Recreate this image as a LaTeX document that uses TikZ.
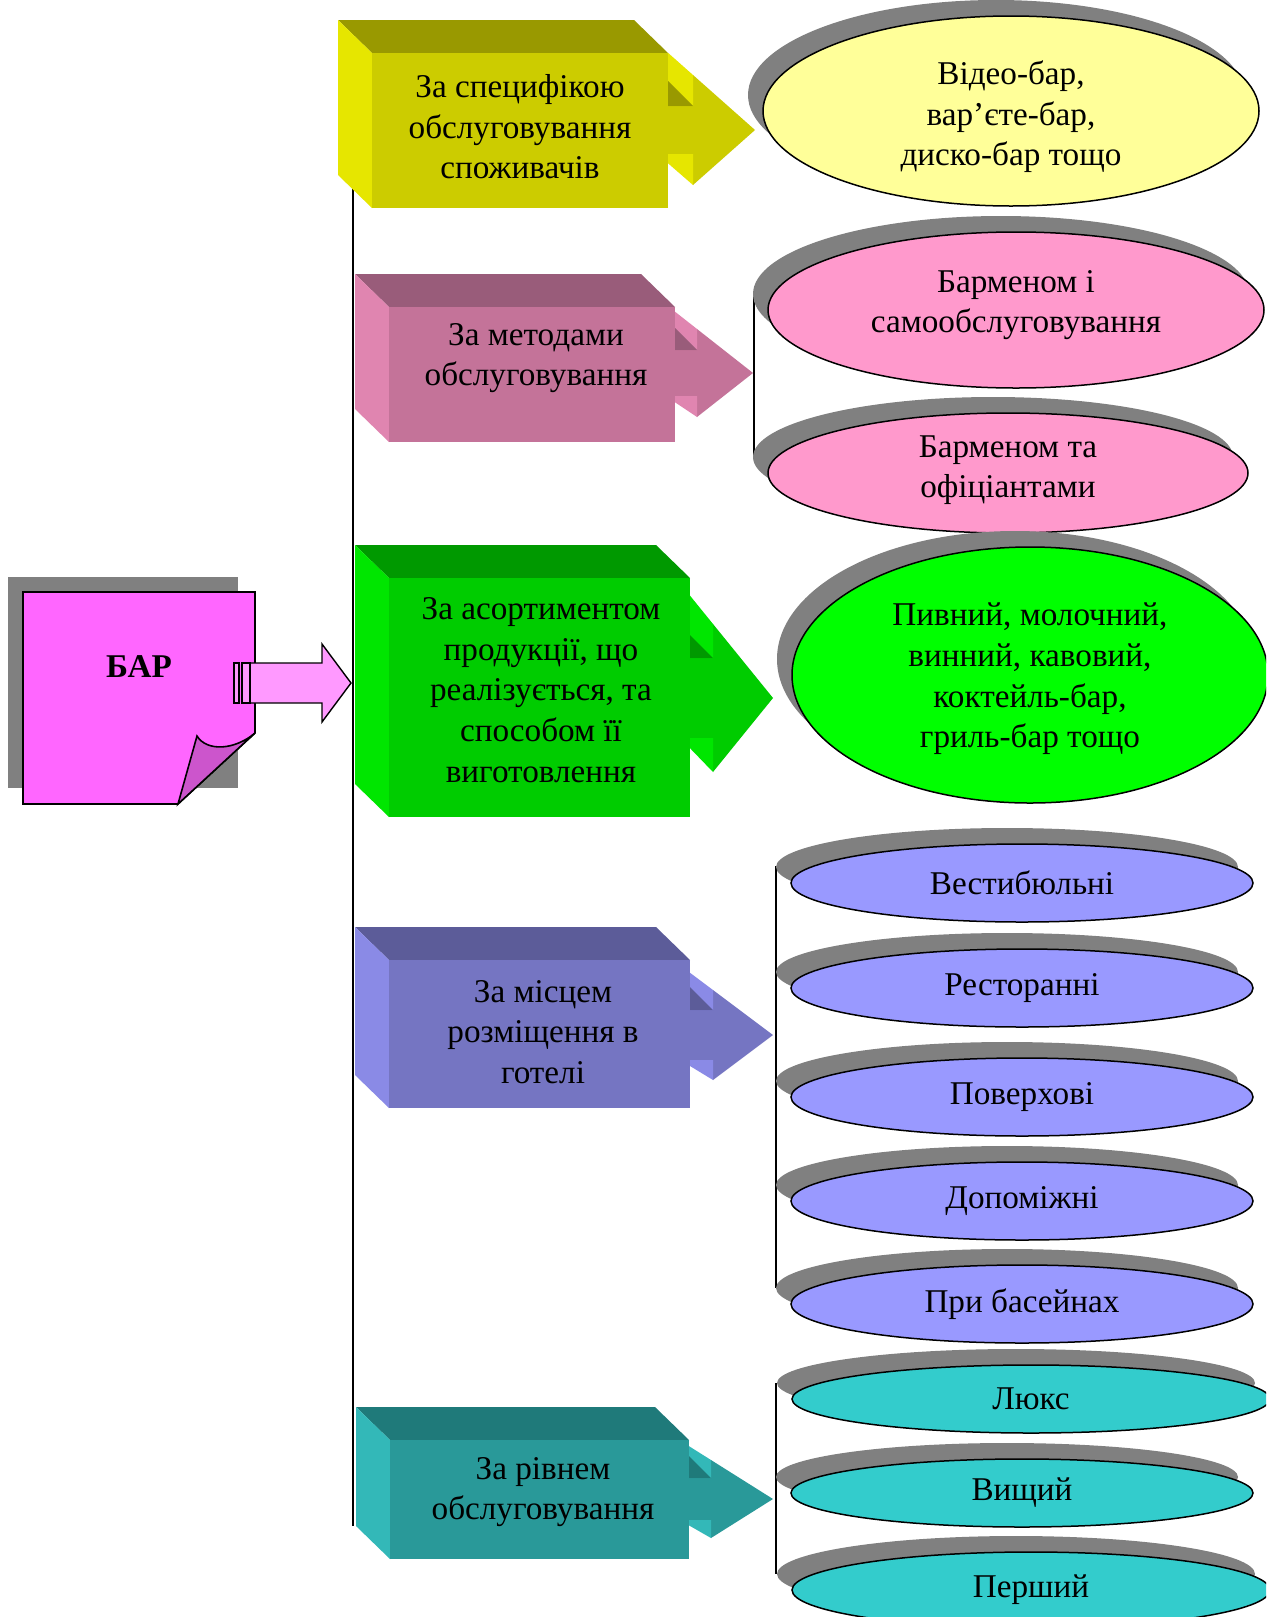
\documentclass[tikz,border=0pt]{standalone}
\usepackage{fontspec}
\setmainfont{Liberation Serif}
\usetikzlibrary{shapes.geometric,shadows}

\definecolor{shadowgray}{HTML}{808080}
\definecolor{barpink}{HTML}{FF66FF}
\definecolor{barfold}{HTML}{CC55CC}
\definecolor{arrowpink}{HTML}{FF99FF}
% box faces: front / side / top
\definecolor{yfront}{HTML}{CCCC00}\definecolor{yside}{HTML}{E6E600}\definecolor{ytop}{HTML}{999900}
\definecolor{pfront}{HTML}{C47399}\definecolor{pside}{HTML}{E085B0}\definecolor{ptop}{HTML}{995C7A}
\definecolor{gfront}{HTML}{00CC00}\definecolor{gside}{HTML}{00E600}\definecolor{gtop}{HTML}{009900}
\definecolor{vfront}{HTML}{7575C2}\definecolor{vside}{HTML}{8A8AE6}\definecolor{vtop}{HTML}{5C5C99}
\definecolor{tfront}{HTML}{299999}\definecolor{tside}{HTML}{33B8B8}\definecolor{ttop}{HTML}{1F7A7A}
% ellipse fills
\definecolor{ovyellow}{HTML}{FFFF99}
\definecolor{ovpink}{HTML}{FF99CC}
\definecolor{ovgreen}{HTML}{00FF00}
\definecolor{ovviolet}{HTML}{9999FF}
\definecolor{ovteal}{HTML}{33CCCC}

% 3D box: front-left x, front-top y, front-right x, front-bottom y, front, side, top
\newcommand\catbox[7]{%
  \fill[#7] (#1-34,#2-33) -- (#3-34,#2-33) -- (#3,#2) -- (#1,#2) -- cycle;
  \fill[#6] (#1-34,#2-33) -- (#1,#2) -- (#1,#4) -- (#1-34,#4-33) -- cycle;
  \fill[#5] (#1,#2) rectangle (#3,#4);
}
% 3D block arrow: base x, head x, tip x, tip y, head half-height, shaft half-height, front, side, top
\newcommand\blockarrow[9]{%
  \pgfmathsetmacro\arHt{#4-#5}%
  \pgfmathsetmacro\arHb{#4+#5}%
  \pgfmathsetmacro\arSt{#4-#6}%
  \pgfmathsetmacro\arSb{#4+#6}%
  \pgfmathsetmacro\arYf{\arHt-(#2-#1)*#5/(#3-#2)}%
  \pgfmathsetmacro\arYb{\arSb+0.3*(\arHb-\arSb)}%
  \fill[#7] (#1,\arSt) -- (#2,\arSt) -- (#2,\arHt) -- (#3,#4) -- (#2,\arHb) -- (#2,\arSb) -- (#1,\arSb) -- cycle;
  \fill[#8] (#1,\arYf) -- (#2,\arHt) -- (#2,\arSt) -- (#1,\arSt) -- cycle;
  \fill[#9] (#1,\arSt-#2+#1) -- (#2,\arSt) -- (#1,\arSt) -- cycle;
  \fill[#8] (#1,\arSb) -- (#2,\arSb) -- (#2,\arHb) -- (#1,\arYb) -- cycle;
}

\begin{document}
\begin{tikzpicture}[x=0.5pt,y=-0.5pt,
  lbl/.style={font=\fontsize{16.6}{20.3}\selectfont, align=center, inner sep=0pt, text=black},
  oval/.style={ellipse, draw=black, line width=0.75pt, inner sep=0pt, align=center,
    font=\fontsize{16.6}{20.3}\selectfont,
    drop shadow={shadow xshift=-7.5pt, shadow yshift=8pt, fill=shadowgray, opacity=1, draw=none}},
  bracket/.style={draw=black, line width=0.9pt},
  spine/.style={draw=black, line width=1pt},
  outl/.style={draw=black, line width=0.7pt}]

\useasboundingbox (0,0) rectangle (1266,1617);
\clip (0,0) rectangle (1266,1617);
\fill[white] (0,0) rectangle (1266,1617);

% main vertical connector
\coordinate (spineTop) at (353,180);
\coordinate (spineBot) at (353,1526);
\draw[spine] (spineTop) -- (spineBot);

% BAR sheet with folded corner
\fill[shadowgray] (8,577) rectangle (238,788);
\filldraw[fill=barpink, outl, line width=0.8pt] (23,592) -- (255,592) -- (255,733) -- (178,804) -- (23,804) -- cycle;
\filldraw[fill=barfold, outl, line width=0.8pt] (178,804) -- (197,736) .. controls (207,752) and (235,750) .. (255,733) -- cycle;
\node[lbl, font=\fontsize{16.6}{20.3}\selectfont\bfseries] (bar) at (139,667) {БАР};
\filldraw[fill=arrowpink, outl] (250,663) -- (322,663) -- (322,644) -- (351,683) -- (322,722) -- (322,703) -- (250,703) -- cycle;
\filldraw[fill=arrowpink, outl] (234,663) rectangle (239,703);
\filldraw[fill=arrowpink, outl] (242,663) rectangle (250,703);

% category blocks
\blockarrow{668}{693}{755}{130}{55}{24}{yfront}{yside}{ytop}
\catbox{372}{53}{668}{208}{yfront}{yside}{ytop}
\node[lbl] (b1) at (520,127) {За специфікою\\обслуговування\\споживачів};

\blockarrow{675}{697}{753}{373}{44}{23}{pfront}{pside}{ptop}
\catbox{389}{307}{675}{442}{pfront}{pside}{ptop}
\node[lbl] (b2) at (536,358) {За методами\\обслуговування};

\blockarrow{690}{713}{773}{698}{74}{40}{gfront}{gside}{gtop}
\catbox{389}{578}{690}{817}{gfront}{gside}{gtop}
\node[lbl] (b3) at (541,690) {За асортиментом\\продукції, що\\реалізується, та\\способом її\\виготовлення};

\blockarrow{690}{713}{773}{1035}{45}{25}{vfront}{vside}{vtop}
\catbox{389}{960}{690}{1108}{vfront}{vside}{vtop}
\node[lbl] (b4) at (543,1032) {За місцем\\розміщення в\\готелі};

\blockarrow{689}{711}{773}{1499}{39}{21}{tfront}{tside}{ttop}
\catbox{390}{1440}{689}{1559}{tfront}{tside}{ttop}
\node[lbl] (b5) at (543,1492) {За рівнем\\обслуговування};

% brackets joining the ellipse groups
\coordinate (pinkTop) at (754,293);
\coordinate (pinkBot) at (754,456);
\draw[bracket] (pinkTop) -- (pinkBot);
\coordinate (violetTop) at (776,866);
\coordinate (violetBot) at (776,1288);
\draw[bracket] (violetTop) -- (violetBot);
\coordinate (tealTop) at (776,1383);
\coordinate (tealBot) at (776,1574);
\draw[bracket] (tealTop) -- (tealBot);

% result ellipses (multi-line captions set slightly off centre)
\node[oval, fill=ovyellow, minimum width=248pt, minimum height=95pt,
  label={[lbl, yshift=-3pt]center:{Відео-бар,\\вар’єте-бар,\\диско-бар тощо}}] (e1) at (1011,111) {};
\node[oval, fill=ovpink, minimum width=248pt, minimum height=78pt,
  label={[lbl, yshift=2.5pt]center:{Барменом і\\самообслуговування}}] (e2a) at (1016,310) {};
\node[oval, fill=ovpink, minimum width=240pt, minimum height=60pt,
  label={[lbl, yshift=1.5pt]center:{Барменом та\\офіціантами}}] (e2b) at (1008,473) {};
\node[oval, fill=ovgreen, minimum width=238pt, minimum height=128pt,
  label={[lbl, yshift=-2pt]center:{Пивний, молочний,\\винний, кавовий,\\коктейль-бар,\\гриль-бар тощо}}] (e3) at (1030,675) {};

\node[oval, fill=ovviolet, minimum width=231pt, minimum height=39pt] (v1) at (1022,883) {Вестибюльні};
\node[oval, fill=ovviolet, minimum width=231pt, minimum height=39pt] (v2) at (1022,988) {Ресторанні};
\node[oval, fill=ovviolet, minimum width=231pt, minimum height=39pt] (v3) at (1022,1097) {Поверхові};
\node[oval, fill=ovviolet, minimum width=231pt, minimum height=39pt] (v4) at (1022,1201) {Допоміжні};
\node[oval, fill=ovviolet, minimum width=231pt, minimum height=39pt] (v5) at (1022,1304) {При басейнах};

\node[oval, fill=ovteal, minimum width=239pt, minimum height=34pt] (t1) at (1031,1399) {Люкс};
\node[oval, fill=ovteal, minimum width=231pt, minimum height=34pt] (t2) at (1022,1493) {Вищий};
\node[oval, fill=ovteal, minimum width=239pt, minimum height=38pt] (t3) at (1031,1590) {Перший};

\end{tikzpicture}
\end{document}
